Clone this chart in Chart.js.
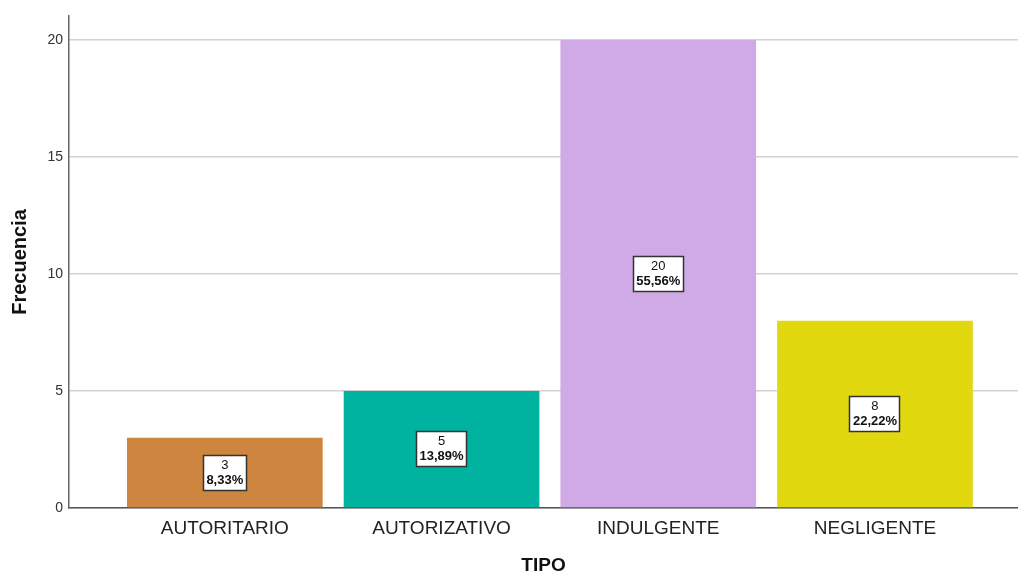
<!DOCTYPE html>
<html>
<head>
<meta charset="utf-8">
<script src="https://cdn.jsdelivr.net/npm/chart.js@4.4.0/dist/chart.umd.min.js"></script>
<style>
html,body{margin:0;padding:0;background:#fff;}
#wrap{width:1018px;height:577px;}
</style>
</head>
<body>
<div id="wrap"><canvas id="c" width="1018" height="577"></canvas></div>
<script>
const categories = ["AUTORITARIO", "AUTORIZATIVO", "INDULGENTE", "NEGLIGENTE"];
const frequencies = [3, 5, 20, 8];
const percentLabels = ["8,33%", "13,89%", "55,56%", "22,22%"];
const barColors = ["#cd853f", "#00b3a0", "#d0aae6", "#e2d810"];
const yTicks = [0, 5, 10, 15, 20];

const points = frequencies.map((v, i) => ({x: i + 1, y: v}));

const labelPlugin = {
  id: 'boxLabels',
  afterDatasetsDraw(chart) {
    const ctx = chart.ctx;
    const meta = chart.getDatasetMeta(0);
    meta.data.forEach((el, i) => {
      const cx = el.x;
      const cy = (el.y + el.base) / 2;
      const l1 = String(frequencies[i]);
      const l2 = percentLabels[i];
      ctx.save();
      ctx.font = 'bold 13px "Liberation Sans", Arial, sans-serif';
      const w2 = ctx.measureText(l2).width;
      ctx.font = '13px "Liberation Sans", Arial, sans-serif';
      const w1 = ctx.measureText(l1).width;
      const w = Math.round(Math.max(w1, w2) + 7);
      const h = 36;
      const left = Math.round(cx - w / 2);
      const top = Math.round(cy - h / 2);
      ctx.fillStyle = '#ffffff';
      ctx.fillRect(left, top, w, h);
      ctx.strokeStyle = '#333333';
      ctx.lineWidth = 1.5;
      ctx.strokeRect(left + 0.5, top + 0.5, w - 1, h - 1);
      ctx.fillStyle = '#111111';
      ctx.textAlign = 'center';
      ctx.textBaseline = 'middle';
      ctx.font = '13px "Liberation Sans", Arial, sans-serif';
      ctx.fillText(l1, cx, top + 10.5);
      ctx.font = 'bold 13px "Liberation Sans", Arial, sans-serif';
      ctx.fillText(l2, cx, top + 25);
      ctx.restore();
    });
  }
};

new Chart(document.getElementById('c'), {
  type: 'bar',
  data: {
    datasets: [{
      data: points,
      backgroundColor: barColors,
      borderWidth: 0,
      barPercentage: 0.903,
      categoryPercentage: 1.0
    }]
  },
  options: {
    responsive: false,
    animation: false,
    events: [],
    layout: {padding: {top: 16, right: 0, left: 0, bottom: 0}},
    plugins: {legend: {display: false}, tooltip: {enabled: false}},
    scales: {
      x: {
        type: 'linear',
        offset: false,
        min: 0.281,
        max: 4.66,
        grid: {display: false, drawTicks: false, offset: false},
        border: {display: true, color: '#555555', width: 1.5},
        ticks: {
          stepSize: 1,
          includeBounds: false,
          autoSkip: false,
          maxRotation: 0,
          padding: 9,
          color: '#222222',
          font: {family: '"Liberation Sans", Arial, sans-serif', size: 19},
          callback: (v) => (Number.isInteger(v) && v >= 1 && v <= categories.length) ? categories[v - 1] : ''
        },
        title: {
          display: true,
          text: 'TIPO',
          color: '#111111',
          font: {family: '"Liberation Sans", Arial, sans-serif', size: 19, weight: 'bold'},
          padding: {top: 11, bottom: 0}
        },
        afterFit: (s) => { s.height = 69; }
      },
      y: {
        min: 0,
        max: 21.03,
        afterBuildTicks: (s) => { s.ticks = yTicks.map(v => ({value: v})); },
        grid: {color: '#d2d2d2', lineWidth: 1.5, drawTicks: false},
        border: {display: true, color: '#666666', width: 1.5},
        ticks: {
          padding: 6,
          color: '#333333',
          font: {family: '"Liberation Sans", Arial, sans-serif', size: 14}
        },
        title: {
          display: true,
          text: 'Frecuencia',
          color: '#111111',
          font: {family: '"Liberation Sans", Arial, sans-serif', size: 20, weight: 'bold'},
          padding: {top: 8, bottom: 0}
        },
        afterFit: (s) => { s.width = 69; }
      }
    }
  },
  plugins: [labelPlugin]
});
</script>
</body>
</html>
